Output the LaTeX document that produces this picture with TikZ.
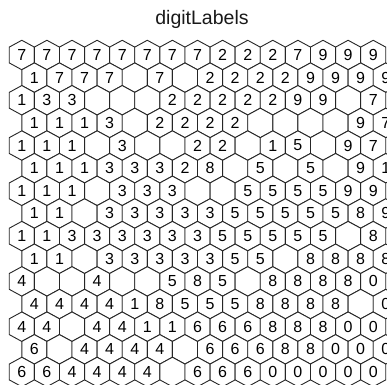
\documentclass[tikz,border=0pt]{standalone}
\usepackage{fontspec}
\setmainfont{Liberation Sans}
\usetikzlibrary{calc}
\begin{document}
\begin{tikzpicture}[x=1pt,y=-1pt,
  hexcell/.style={draw=black!85,line width=0.9pt,fill=white,line join=miter},
  digitlab/.style={inner sep=0pt,font=\fontsize{16}{16}\selectfont,text=black},
  titlelab/.style={inner sep=0pt,font=\fontsize{19.5}{20}\selectfont,text=black!90,anchor=base}]
\useasboundingbox (0,0) rectangle (387,384);
\clip (0,0) rectangle (387,384);
\fill[white] (0,0) rectangle (387,384);
\node[titlelab] (title) at (202,24.5) {digitLabels};
\def\hw{12.55}\def\ha{7.9}\def\hr{14.74}
\def\blank{x}
\foreach \rowlist [count=\r] in {
 {7,7,7,7,7,7,7,7,2,2,2,7,9,9,9},
 {1,7,7,7,x,7,x,2,2,2,2,9,9,9,9},
 {1,3,3,x,x,x,2,2,2,2,2,9,9,x,7},
 {1,1,1,3,x,2,2,2,2,x,x,x,x,9,7},
 {1,1,1,x,3,x,x,2,2,x,1,5,x,9,7},
 {1,1,1,3,3,3,2,8,x,5,x,5,x,9,1},
 {1,1,1,x,3,3,3,x,x,5,5,5,5,9,9},
 {1,1,x,3,3,3,3,3,5,5,5,5,5,8,9},
 {1,1,3,3,3,3,3,3,5,5,5,5,5,x,8},
 {1,1,x,3,3,3,3,3,5,5,x,8,8,8,8},
 {4,x,x,4,x,x,5,8,5,x,8,8,8,8,0},
 {4,4,4,4,1,8,5,5,5,8,8,8,8,x,0},
 {4,4,x,4,4,1,1,6,6,6,8,8,8,0,0},
 {6,x,4,4,4,4,x,6,6,6,8,8,0,0,0},
 {6,6,4,4,4,4,x,6,6,6,0,0,0,0,0}} {
  \foreach \v [count=\c] in \rowlist {
    \pgfmathsetmacro{\cx}{21.8+25.1*(\c-1)+12.55*(1-mod(\r,2))}
    \pgfmathsetmacro{\cy}{55+22.64*(\r-1)}
    \coordinate (h-\r-\c) at (\cx,\cy);
    \draw[hexcell] ($(h-\r-\c)+(0,-\hr)$) -- ++(\hw,\hr-\ha) -- ++(0,2*\ha) -- ++(-\hw,\hr-\ha)
      -- ++(-\hw,-\hr+\ha) -- ++(0,-2*\ha) -- cycle;
    \edef\tmp{\v}
    \ifx\tmp\blank\else
      \node[digitlab] (l-\r-\c) at (h-\r-\c) {\v};
    \fi
  }
}
\end{tikzpicture}
\end{document}
